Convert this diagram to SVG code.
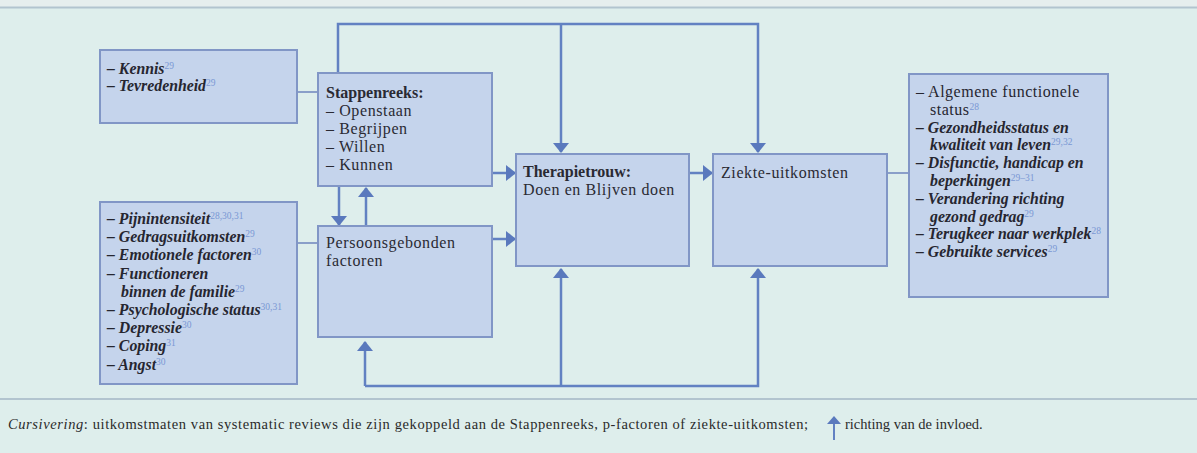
<svg xmlns="http://www.w3.org/2000/svg" width="1197" height="453" viewBox="0 0 1197 453">
<style>
  .box { fill: #c5d4ec; stroke: #8196c6; stroke-width: 2; }
  .t { font-family: "Liberation Serif", "Times New Roman", serif; font-size: 16px; fill: #2a2a33; letter-spacing: 0.6px; }
  .h { font-weight: bold; letter-spacing: 0; }
  .i { font-family: "Liberation Serif", "Times New Roman", serif; font-size: 15.8px; font-style: italic; font-weight: bold; fill: #262630; }
  .r { font-family: "Liberation Serif", "Times New Roman", serif; font-size: 16px; fill: #262630; letter-spacing: 0.5px; }
  .sup { font-size: 9.5px; fill: #7a98d4; font-style: normal; font-weight: normal; letter-spacing: 0; }
  .cap { font-family: "Liberation Serif", "Times New Roman", serif; font-size: 14.5px; fill: #2a2a2a; }
  .arr { fill: none; stroke: #6281c2; stroke-width: 2.5; }
  .plain { fill: none; stroke: #8196c6; stroke-width: 1.8; }
</style>
<defs>
  <marker id="ah" markerUnits="userSpaceOnUse" markerWidth="10" markerHeight="16" refX="9" refY="8" orient="auto">
    <path d="M0,0 L10,8 L0,16 z" fill="#5a79bd"/>
  </marker>
</defs>
<rect x="0" y="0" width="1197" height="453" fill="#deeeec"/>
<rect x="0" y="0" width="1197" height="7" fill="#e6eeee"/>
<line x1="0" y1="7.5" x2="1197" y2="7.5" stroke="#b2c4cf" stroke-width="2"/>
<line x1="0" y1="399" x2="1197" y2="399" stroke="#b2c4cf" stroke-width="2"/>

<g id="connectors">
  <path class="arr" d="M338,72 V24 H758 V152" marker-end="url(#ah)"/>
  <path class="arr" d="M561,24 V152" marker-end="url(#ah)"/>
  <path class="arr" d="M365,386 H758 V269" marker-end="url(#ah)"/>
  <path class="arr" d="M365,386 V342" marker-end="url(#ah)"/>
  <path class="arr" d="M561,386 V269" marker-end="url(#ah)"/>
  <path class="arr" d="M339,187 V225" marker-end="url(#ah)"/>
  <path class="arr" d="M366,226 V188" marker-end="url(#ah)"/>
  <path class="arr" d="M493,173 H515" marker-end="url(#ah)"/>
  <path class="arr" d="M493,239 H515" marker-end="url(#ah)"/>
  <path class="arr" d="M690,173 H712" marker-end="url(#ah)"/>
  <path class="plain" d="M297,92 H318"/>
  <path class="plain" d="M297,243 H318"/>
  <path class="plain" d="M887,173 H909"/>
</g>

<g id="kennis">
  <rect class="box" x="100" y="50" width="197" height="73"/>
  <text class="i" x="107" y="74">– Kennis<tspan class="sup" dy="-5">29</tspan></text>
  <text class="i" x="107" y="91">– Tevredenheid<tspan class="sup" dy="-5">29</tspan></text>
</g>

<g id="persoonsfactoren-lijst">
  <rect class="box" x="100" y="202" width="197" height="182"/>
  <text class="i" x="107" y="224">– Pijnintensiteit<tspan class="sup" dy="-5">28,30,31</tspan></text>
  <text class="i" x="107" y="242.2">– Gedragsuitkomsten<tspan class="sup" dy="-5">29</tspan></text>
  <text class="i" x="107" y="260.4">– Emotionele factoren<tspan class="sup" dy="-5">30</tspan></text>
  <text class="i" x="107" y="278.6">– Functioneren</text>
  <text class="i" x="121" y="296.8">binnen de familie<tspan class="sup" dy="-5">29</tspan></text>
  <text class="i" x="107" y="315">– Psychologische status<tspan class="sup" dy="-5">30,31</tspan></text>
  <text class="i" x="107" y="333.2">– Depressie<tspan class="sup" dy="-5">30</tspan></text>
  <text class="i" x="107" y="351.4">– Coping<tspan class="sup" dy="-5">31</tspan></text>
  <text class="i" x="107" y="369.6">– Angst<tspan class="sup" dy="-5">30</tspan></text>
</g>

<g id="stappenreeks">
  <rect class="box" x="318" y="73" width="174" height="113"/>
  <text class="t h" x="326" y="98">Stappenreeks:</text>
  <text class="t" x="326" y="116">– Openstaan</text>
  <text class="t" x="326" y="134">– Begrijpen</text>
  <text class="t" x="326" y="152">– Willen</text>
  <text class="t" x="326" y="170">– Kunnen</text>
</g>

<g id="persoonsgebonden">
  <rect class="box" x="318" y="226" width="174" height="111"/>
  <text class="t" x="326" y="248">Persoonsgebonden</text>
  <text class="t" x="326" y="266">factoren</text>
</g>

<g id="therapietrouw">
  <rect class="box" x="516" y="154" width="173" height="112"/>
  <text class="t h" x="523" y="177">Therapietrouw:</text>
  <text class="t" x="523" y="195">Doen en Blijven doen</text>
</g>

<g id="ziekte-uitkomsten">
  <rect class="box" x="713" y="154" width="174" height="112"/>
  <text class="t" x="721" y="178">Ziekte-uitkomsten</text>
</g>

<g id="uitkomsten-lijst">
  <rect class="box" x="909" y="74" width="199" height="223"/>
  <text class="r" x="916" y="97">– Algemene functionele</text>
  <text class="r" x="930" y="114.8">status<tspan class="sup" dy="-5">28</tspan></text>
  <text class="i" x="916" y="132.6">– Gezondheidsstatus en</text>
  <text class="i" x="930" y="150.4">kwaliteit van leven<tspan class="sup" dy="-5">29,32</tspan></text>
  <text class="i" x="916" y="168.2">– Disfunctie, handicap en</text>
  <text class="i" x="930" y="186">beperkingen<tspan class="sup" dy="-5">29–31</tspan></text>
  <text class="i" x="916" y="203.8">– Verandering richting</text>
  <text class="i" x="930" y="221.6">gezond gedrag<tspan class="sup" dy="-5">29</tspan></text>
  <text class="i" x="916" y="239.4">– Terugkeer naar werkplek<tspan class="sup" dy="-5">28</tspan></text>
  <text class="i" x="916" y="257.2">– Gebruikte services<tspan class="sup" dy="-5">29</tspan></text>
</g>

<g id="legenda">
  <text class="cap" x="8" y="429" textLength="800" lengthAdjust="spacing"><tspan font-style="italic">Cursivering</tspan>: uitkomstmaten van systematic reviews die zijn gekoppeld aan de Stappenreeks, p-factoren of ziekte-uitkomsten;</text>
  <line x1="834" y1="440" x2="834" y2="422" stroke="#6281c2" stroke-width="2"/>
  <path d="M827,424 L834,416 L841,424 z" fill="#5a79bd"/>
  <text class="cap" x="845" y="429">richting van de invloed.</text>
</g>
</svg>
